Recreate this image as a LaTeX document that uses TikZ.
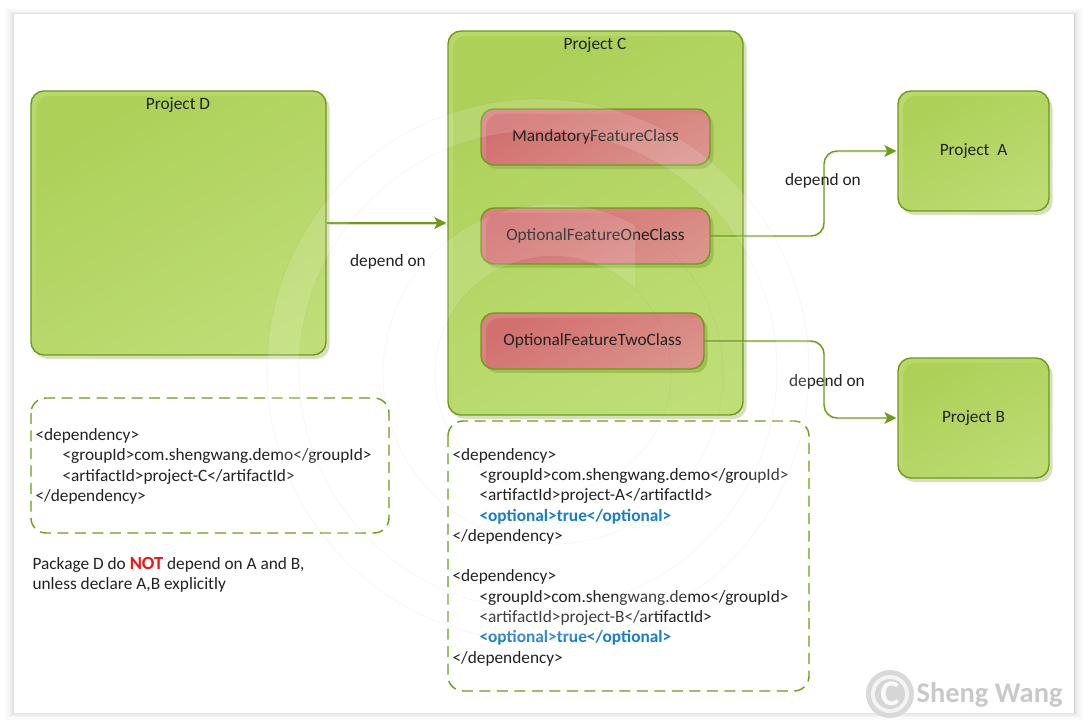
\documentclass[tikz,border=0pt]{standalone}
\usepackage{fontspec}
\setmainfont{Carlito}
\usetikzlibrary{arrows.meta,shadows}
\definecolor{leafline}{HTML}{6F9A1A}
\definecolor{leafrim}{HTML}{B8D86C}
\definecolor{leafa}{HTML}{ADD059}
\definecolor{leafb}{HTML}{C0DE78}
\definecolor{leafshadow}{HTML}{D6E0BE}
\definecolor{rosea}{HTML}{D27070}
\definecolor{roseb}{HTML}{DD9C92}
\definecolor{roserim}{HTML}{DA8280}
\definecolor{roseshadow}{HTML}{9CC054}
\definecolor{inkdark}{HTML}{222222}
\definecolor{optblue}{HTML}{1B7CC8}
\definecolor{notred}{HTML}{F01414}
\definecolor{markgray}{HTML}{C9C9C9}
\tikzset{
  txt/.style={font=\fontsize{17.3}{20.3}\selectfont,text=inkdark},
  project/.style={txt,draw=leafline,line width=1.4pt,rounded corners=13pt,fill=leafrim,
    copy shadow={shadow xshift=3.5pt,shadow yshift=-4pt,fill=leafshadow,draw=none},
    path picture={\fill[rounded corners=13pt,top color=leafa,bottom color=leafb,shading angle=30]
      ([xshift=5pt,yshift=-5pt]path picture bounding box.north west) rectangle
      ([xshift=30pt,yshift=-30pt]path picture bounding box.south east);}},
  feature/.style={txt,draw=leafline,line width=1.4pt,rounded corners=13pt,fill=roserim,
    copy shadow={shadow xshift=3.5pt,shadow yshift=-4pt,fill=roseshadow,draw=none},
    path picture={\fill[rounded corners=13pt,top color=rosea,bottom color=roseb,shading angle=30]
      ([xshift=5pt,yshift=-5pt]path picture bounding box.north west) rectangle
      ([xshift=30pt,yshift=-30pt]path picture bounding box.south east);}},
  pomframe/.style={draw=leafline,line width=1.4pt,rounded corners=15pt,dash pattern=on 11pt off 6.5pt},
  pomtext/.style={txt,anchor=west,align=left},
  link/.style={draw=leafline,line width=1.4pt,rounded corners=13pt,shorten >=1pt,
    preaction={draw=leafshadow,-,transform canvas={xshift=.8pt,yshift=-1.5pt}},
    -{Stealth[length=12pt,width=12pt,inset=3pt]}}
}
\newcommand{\pomindent}{\hspace*{27pt}}
\newcommand{\optline}{\textcolor{optblue}{\bfseries <optional>true</optional>}}
\begin{document}
\begin{tikzpicture}[x=1pt,y=-1pt]
  \useasboundingbox (0,0) rectangle (1088,727);
  % page sheet
  \foreach \d/\g in {10/1,8/2,6/4,4/7,2/11,0.5/16}
    \fill[black!\g] (14-\d,14-0.6*\d) rectangle (1074+\d,713+0.7*\d);
  \fill[white] (14,14) rectangle (1074,713);
  % projects
  \node at (178.5,223) [project,minimum width=295pt,minimum height=264pt] (projD) {};
  \node at (595.5,223) [project,minimum width=295pt,minimum height=384pt] (projC) {};
  \node at (973.5,151) [project,minimum width=151pt,minimum height=120pt] (projA) {Project\ \ A};
  \node at (973.5,418) [project,minimum width=151pt,minimum height=120pt] (projB) {Project B};
  \node at (178,105) [txt] (titleD) {Project D};
  \node at (595,45) [txt] (titleC) {Project C};
  % feature classes
  \node at (595.5,137) [feature,minimum width=229pt,minimum height=56pt] (mandatory) {MandatoryFeatureClass};
  \node at (595.5,236) [feature,minimum width=229pt,minimum height=56pt] (optOne) {OptionalFeatureOneClass};
  \node at (592.5,341) [feature,minimum width=223pt,minimum height=56pt] (optTwo) {OptionalFeatureTwoClass};
  % connectors
  \coordinate (bendA) at (824,151);
  \coordinate (bendB) at (824,418);
  \draw[link] (projD.east) -- (projC.west);
  \draw[link] (optOne.east) -| (bendA) -- (projA.west);
  \draw[link] (optTwo.east) -| (bendB) -- (projB.west);
  \node at (388,262) [txt] (depCD) {depend on};
  \node at (823,181) [txt] (depA) {depend on};
  \node at (827,382) [txt] (depB) {depend on};
  % pom snippets
  \draw[pomframe] (31,398) rectangle (389,533);
  \draw[pomframe] (448,421) rectangle (809,691);
  \node at (32,466.5) [pomtext] (pomC) {<dependency>\\
    \pomindent<groupId>com.shengwang.demo</groupId>\\
    \pomindent<artifactId>project-C</artifactId>\\
    </dependency>};
  \node at (449,557) [pomtext] (pomAB) {<dependency>\\
    \pomindent<groupId>com.shengwang.demo</groupId>\\
    \pomindent<artifactId>project-A</artifactId>\\
    \pomindent\optline\\
    </dependency>\\[20.3pt]
    <dependency>\\
    \pomindent<groupId>com.shengwang.demo</groupId>\\
    \pomindent<artifactId>project-B</artifactId>\\
    \pomindent\optline\\
    </dependency>};
  \node at (29,575) [pomtext,font=\fontsize{17.3}{19.6}\selectfont] (note) {Package D do \textcolor{notred}{\fontsize{18.5}{19.6}\selectfont\bfseries NOT} depend on A and B,\\
    unless declare A,B explicitly};
  % watermark rings
  \fill[white,opacity=.13,even odd rule] (538,370) circle (271pt) (538,370) circle (239pt);
  \begin{scope}
    \clip (250,100) rectangle (635,374);
    \fill[white,opacity=.13,even odd rule] (553,374) circle (170pt) (553,374) circle (118pt);
  \end{scope}
  \foreach \r in {271,239}
    \draw[black,opacity=.04,line width=.6pt] (538,370) circle (\r pt);
  \foreach \r in {170,118}
    \draw[black,opacity=.04,line width=.6pt] (553,374) circle (\r pt);
  % logo
  \fill[markgray!70] (890,694) circle (24pt);
  \fill[white!80!markgray] (890,694) circle (19pt);
  \fill[markgray!75] (890,694) circle (15pt);
  \node at (890,694) [text=white!90!markgray,font=\fontsize{36}{36}\bfseries\selectfont] (logoC) {C};
  \node at (913,695) [anchor=west,text=markgray,font=\fontsize{28.5}{30}\bfseries\selectfont] (logoName) {Sheng Wang};
\end{tikzpicture}
\end{document}
